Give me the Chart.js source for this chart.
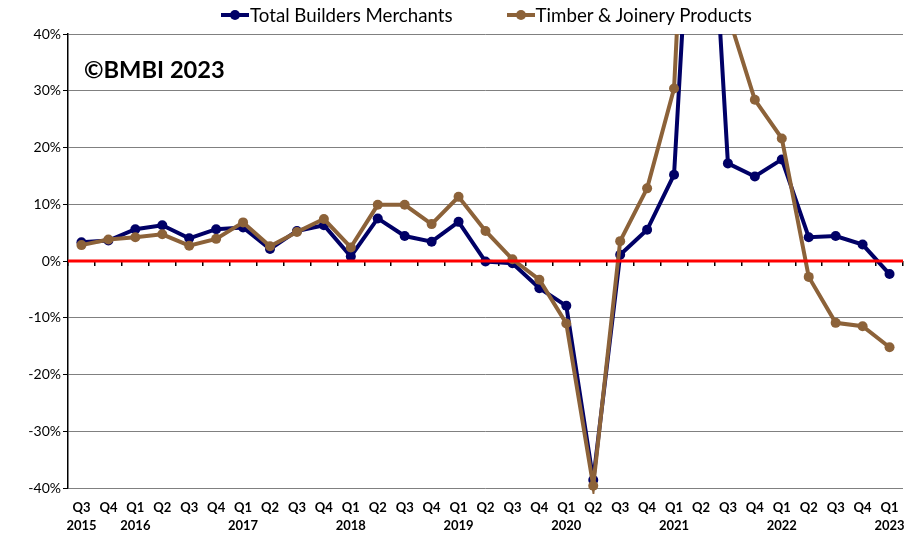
<!DOCTYPE html>
<html>
<head>
<meta charset="utf-8" />
<script src="https://cdn.jsdelivr.net/npm/chart.js"></script>
<style>
    body { margin: 0; background: white; }
    .wrap { position: relative; width: 916px; height: 534px; font-family: Lato, sans-serif; }
    #legend { position: absolute; left: 221px; top: 4px; display: flex; align-items: center; font-size: 18.7px; color: #000; }
    .item { display: flex; align-items: center; margin-right: 54px; }
    .mark { position: relative; width: 28px; height: 4px; margin-right: 1px; }
    .mark::after { content: ''; position: absolute; left: 9px; top: -3px; width: 10px; height: 10px; border-radius: 50%; background: inherit; }
    .stamp { position: absolute; left: 84px; top: 55px; font-weight: bold; font-size: 23.7px; color: #000; }
</style>
</head>
<body>
<div class="wrap">
    <canvas id="chart" width="916" height="534"></canvas>
    <div id="legend"></div>
    <div class="stamp">©BMBI 2023</div>
</div>

<script>
    // categories
    const quarters = ['Q3', 'Q4',
        'Q1', 'Q2', 'Q3', 'Q4', 'Q1', 'Q2', 'Q3', 'Q4', 'Q1', 'Q2', 'Q3', 'Q4',
        'Q1', 'Q2', 'Q3', 'Q4', 'Q1', 'Q2', 'Q3', 'Q4', 'Q1', 'Q2', 'Q3', 'Q4',
        'Q1', 'Q2', 'Q3', 'Q4', 'Q1'];
    const years = ['2015', '',
        '2016', '', '', '', '2017', '', '', '', '2018', '', '', '',
        '2019', '', '', '', '2020', '', '', '', '2021', '', '', '',
        '2022', '', '', '', '2023'];

    // % change on same quarter a year earlier
    const totalBuildersMerchants = [3.3, 3.6,
        5.6, 6.3, 4.0, 5.6, 5.9, 2.1, 5.3, 6.3, 0.8, 7.5, 4.4, 3.4,
        6.9, -0.1, -0.4, -4.8, -7.9, -38.6, 1.1, 5.5, 15.2, 98, 17.2, 14.9,
        17.9, 4.2, 4.4, 2.9, -2.3];
    const timberJoinery = [2.8, 3.8,
        4.2, 4.7, 2.7, 3.9, 6.8, 2.6, 5.1, 7.4, 2.4, 9.9, 9.9, 6.5,
        11.3, 5.3, 0.3, -3.3, -11.0, -39.6, 3.5, 12.8, 30.4, 126, 43.5, 28.4,
        21.6, -2.8, -10.9, -11.5, -15.2];

    const yMin = -40, yMax = 40, yStep = 10;

    const navy = '#000066';
    const brown = '#8c6239';

    const labels = quarters.map((q, i) => years[i] ? [q, years[i]] : q);

    // red line at 0%, drawn over the series like the original
    const zeroLine = {
        id: 'zeroLine',
        afterDatasetsDraw(chart) {
            const { ctx, chartArea, scales } = chart;
            const y = scales.y.getPixelForValue(0);
            ctx.save();
            ctx.strokeStyle = '#ff0000';
            ctx.lineWidth = 3;
            ctx.beginPath();
            ctx.moveTo(chartArea.left, y);
            ctx.lineTo(chartArea.right, y);
            ctx.stroke();
            ctx.restore();
        }
    };

    const clip = { left: 6, right: 6, top: 0, bottom: 6 };

    const chart = new Chart(document.getElementById('chart'), {
        type: 'line',
        data: {
            labels: labels,
            datasets: [{
                label: 'Total Builders Merchants',
                data: totalBuildersMerchants,
                borderColor: navy,
                backgroundColor: navy,
                pointBackgroundColor: navy,
                borderWidth: 4,
                pointRadius: 5,
                pointBorderWidth: 0,
                order: 1,
                clip: clip
            }, {
                label: 'Timber & Joinery Products',
                data: timberJoinery,
                borderColor: brown,
                backgroundColor: brown,
                pointBackgroundColor: brown,
                borderWidth: 4,
                pointRadius: 5,
                pointBorderWidth: 0,
                order: 0,
                clip: clip
            }]
        },
        options: {
            responsive: false,
            animation: false,
            layout: { padding: { top: 34, right: 13, left: 0, bottom: 0 } },
            plugins: {
                legend: { display: false },
                tooltip: { enabled: false }
            },
            scales: {
                x: {
                    offset: true,
                    grid: { display: false, drawTicks: false },
                    border: { display: false },
                    ticks: {
                        color: '#000',
                        autoSkip: false,
                        maxRotation: 0,
                        padding: 10,
                        font: { family: 'Lato', weight: 'bold', size: 13, lineHeight: 1.45 }
                    },
                    afterFit: s => { s.height = 46; }
                },
                xZero: {
                    axis: 'x',
                    type: 'category',
                    position: { y: 0 },
                    offset: true,
                    grid: { drawOnChartArea: false, offset: true, tickLength: 5, color: '#000', lineWidth: 1.5 },
                    border: { display: false },
                    ticks: { display: false }
                },
                y: {
                    min: yMin,
                    max: yMax,
                    ticks: {
                        stepSize: yStep,
                        color: '#000',
                        padding: 2,
                        font: { family: 'Lato', size: 14 },
                        callback: v => v + '%'
                    },
                    grid: { color: '#808080', lineWidth: 1, tickLength: 5, tickColor: '#000' },
                    border: { color: '#000', width: 1.5 },
                    afterFit: s => { s.width = 68; }
                }
            }
        },
        plugins: [zeroLine]
    });

    // legend as html, built from the datasets
    const legend = document.getElementById('legend');
    chart.data.datasets.forEach(ds => {
        const item = document.createElement('div');
        item.className = 'item';
        const mark = document.createElement('span');
        mark.className = 'mark';
        mark.style.background = ds.borderColor;
        const text = document.createElement('span');
        text.textContent = ds.label;
        item.appendChild(mark);
        item.appendChild(text);
        legend.appendChild(item);
    });
</script>
</body>
</html>
